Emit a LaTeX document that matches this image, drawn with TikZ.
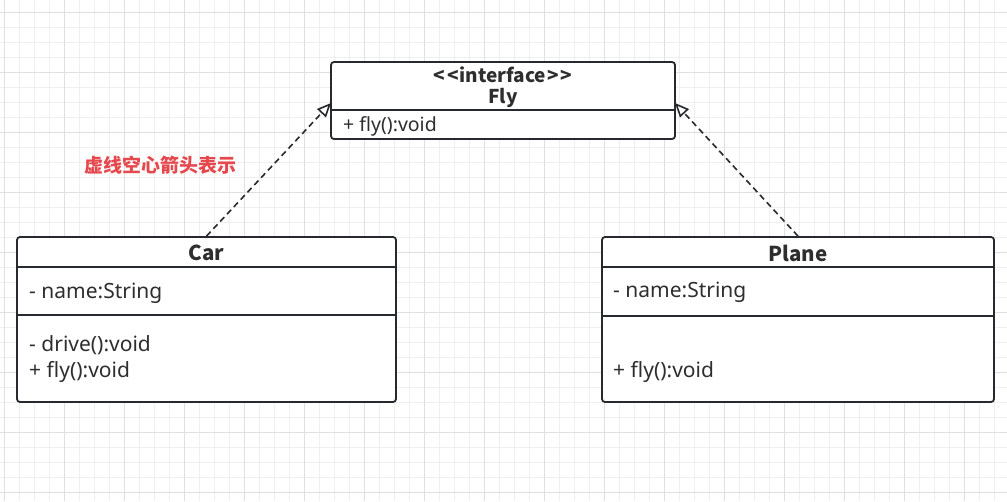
\documentclass[tikz,border=0pt]{standalone}
\usepackage{fontspec}
\setmainfont{Noto Sans}
\newfontfamily\cjk{Noto Sans CJK SC}
\usetikzlibrary{arrows.meta}
\definecolor{gridminor}{HTML}{EFEFEF}
\definecolor{gridmajor}{HTML}{E0E0E0}
\definecolor{linec}{HTML}{262A2E}
\definecolor{txtc}{HTML}{2E2E2E}
\definecolor{redc}{HTML}{E5484D}
\tikzset{
  classbox/.style={draw=linec, line width=1.8pt, rounded corners=3pt, fill=white, inner sep=0pt},
  sepline/.style={draw=linec, line width=1.8pt},
  member/.style={anchor=west, inner sep=0pt, text=txtc, font=\fontsize{21}{24}\selectfont},
  fmember/.style={anchor=west, inner sep=0pt, text=txtc, font=\fontsize{19.5}{22}\selectfont},
  title/.style={inner sep=0pt, text=txtc, font=\cjk\fontsize{20.5}{24}\selectfont\bfseries},
  ftitle/.style={inner sep=0pt, text=txtc, font=\cjk\fontsize{19}{22}\selectfont\bfseries},
  realize/.style={draw=linec, line width=1.6pt, dash pattern=on 6pt off 4pt,
    -{Triangle[open, length=14pt, width=12pt, fill=white]}},
  note/.style={inner sep=0pt, text=redc, font=\cjk\fontsize{19}{22}\selectfont\bfseries}
}
\begin{document}
\begin{tikzpicture}[x=1pt,y=-1pt]
\useasboundingbox (0,0) rectangle (1007,501);
\fill[white] (0,0) rectangle (1007,501);
% grid
\foreach \i in {0,...,67} {\draw[gridminor, line width=1pt] ({4.5+15*\i},0) -- ({4.5+15*\i},501);}
\foreach \j in {0,...,33} {\draw[gridminor, line width=1pt] (0,{12+15*\j}) -- (1007,{12+15*\j});}
\foreach \i in {0,...,16} {\draw[gridmajor, line width=1pt] ({4.5+60*\i},0) -- ({4.5+60*\i},501);}
\foreach \j in {0,...,8} {\draw[gridmajor, line width=1pt] (0,{12+60*\j}) -- (1007,{12+60*\j});}

% Fly interface
\node[classbox, minimum width=344pt, minimum height=77pt] (fly) at (503,100.5) {};
\draw[sepline] (331,110) -- (675,110);
\node[ftitle] (flystereo) at (503,75) {<\kern2pt<\kern1pt interface\kern1pt>\kern2pt>};
\node[ftitle] (flyname) at (503,98) {Fly};
\node[fmember] (flym) at (343,126) {+ fly():void};

% Car
\node[classbox, minimum width=379pt, minimum height=165pt] (car) at (206.5,319.5) {};
\draw[sepline] (17,267) -- (396,267);
\draw[sepline] (17,315) -- (396,315);
\node[title] (carname) at (206.5,253) {Car};
\node[member] (carattr) at (29,293) {- name:String};
\node[member] (carm1) at (29,345) {- drive():void};
\node[member] (carm2) at (29,372) {+ fly():void};

% Plane
\node[classbox, minimum width=392pt, minimum height=165pt] (plane) at (798,319.5) {};
\draw[sepline] (602,267) -- (994,267);
\draw[sepline] (602,316) -- (994,316);
\node[title] (planename) at (798,253) {Plane};
\node[member] (planeattr) at (613,292) {- name:String};
\node[member] (planem) at (613,372) {+ fly():void};

% connectors
\coordinate (flyL) at (331,103);
\coordinate (flyR) at (675,103);
\draw[realize] (car.north) -- (flyL);
\draw[realize] (plane.north) -- (flyR);

% note
\node[note] (lbl) at (160.5,165) {虚线空心箭头表示};
\end{tikzpicture}
\end{document}
